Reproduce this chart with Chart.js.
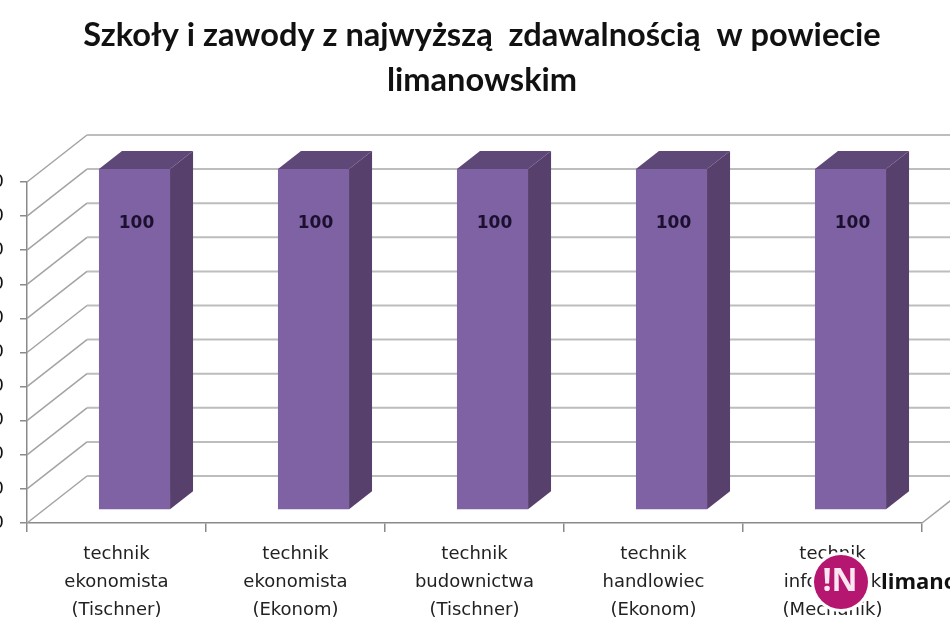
<!DOCTYPE html>
<html>
<head>
<meta charset="utf-8">
<style>
  html, body { margin: 0; padding: 0; background: #fff; overflow: hidden; }
  canvas { display: block; }
</style>
<script src="https://cdn.jsdelivr.net/npm/chart.js@4/dist/chart.umd.js"></script>
</head>
<body>
<canvas id="chart" width="950" height="632"></canvas>
<script>
const titleLines = ['Szkoły i zawody z najwyższą  zdawalnością  w powiecie', 'limanowskim'];
const categories = [
    ['technik', 'ekonomista', '(Tischner)'],
    ['technik', 'ekonomista', '(Ekonom)'],
    ['technik', 'budownictwa', '(Tischner)'],
    ['technik', 'handlowiec', '(Ekonom)'],
    ['technik', 'informatyk', '(Mechanik)']
];
const passRates = [100, 100, 100, 100, 100];

// fake 3D depth, the look of the old Excel chart
const wallDx = 60, wallDy = -47;
const barDx = 23, barDy = -18;
const barShiftX = 18, barShiftY = -13;

const wallPlugin = {
    id: 'wall',
    beforeDatasetsDraw(chart) {
        const { ctx, chartArea: a, scales: { y } } = chart;
        ctx.save();
        y.ticks.forEach(t => {
            const py = y.getPixelForValue(t.value);
            ctx.strokeStyle = '#a3a3a3';
            ctx.lineWidth = 1.5;
            ctx.beginPath();
            ctx.moveTo(a.left, py);
            ctx.lineTo(a.left + wallDx, py + wallDy);
            ctx.stroke();
            ctx.strokeStyle = '#bdbdbd';
            ctx.lineWidth = 2;
            ctx.beginPath();
            ctx.moveTo(a.left + wallDx, py + wallDy);
            ctx.lineTo(chart.width, py + wallDy);
            ctx.stroke();
        });
        // right wall edge
        ctx.strokeStyle = '#a3a3a3';
        ctx.lineWidth = 1.5;
        ctx.beginPath();
        ctx.moveTo(a.right, a.bottom);
        ctx.lineTo(a.right + wallDx, a.bottom + wallDy);
        ctx.stroke();
        ctx.restore();
    }
};

const boxPlugin = {
    id: 'box',
    beforeDatasetDraw(chart) {
        chart.ctx.save();
        chart.ctx.translate(barShiftX, barShiftY);
    },
    afterDatasetDraw(chart, args) {
        const ctx = chart.ctx;
        args.meta.data.forEach((bar, i) => {
            const l = bar.x - bar.width / 2, r = bar.x + bar.width / 2;
            ctx.fillStyle = '#5e4878';
            ctx.beginPath();
            ctx.moveTo(l, bar.y);
            ctx.lineTo(l + barDx, bar.y + barDy);
            ctx.lineTo(r + barDx, bar.y + barDy);
            ctx.lineTo(r, bar.y);
            ctx.fill();
            ctx.fillStyle = '#57406c';
            ctx.beginPath();
            ctx.moveTo(r, bar.y);
            ctx.lineTo(r + barDx, bar.y + barDy);
            ctx.lineTo(r + barDx, bar.base + barDy);
            ctx.lineTo(r, bar.base);
            ctx.fill();
            // value label
            ctx.fillStyle = '#1c1030';
            ctx.font = 'bold 17px "DejaVu Sans"';
            ctx.textAlign = 'center';
            ctx.textBaseline = 'middle';
            ctx.fillText(String(passRates[i]), bar.x + 2, bar.y + 55);
        });
        ctx.restore();
    }
};

const titleLogoPlugin = {
    id: 'titleLogo',
    afterDraw(chart) {
        const ctx = chart.ctx;
        ctx.save();
        ctx.fillStyle = '#111';
        ctx.font = 'bold 32.6px Lato';
        ctx.textAlign = 'center';
        ctx.textBaseline = 'middle';
        ctx.fillText(titleLines[0], 482, 35);
        ctx.fillText(titleLines[1], 482, 80);

        // site logo stamped over the last label
        ctx.fillStyle = '#fff';
        ctx.beginPath();
        ctx.arc(841, 582, 30, 0, Math.PI * 2);
        ctx.fill();
        ctx.fillStyle = '#b5166f';
        ctx.beginPath();
        ctx.arc(841, 582, 27, 0, Math.PI * 2);
        ctx.fill();
        ctx.fillStyle = '#fbe6f1';
        ctx.font = 'bold 32px "Open Sans"';
        ctx.fillText('!N', 840, 582);
        ctx.fillStyle = '#111';
        ctx.font = 'bold 22px "Open Sans"';
        ctx.textAlign = 'left';
        ctx.fillText('limanowska', 881, 583);
        ctx.restore();
    }
};

new Chart(document.getElementById('chart'), {
    type: 'bar',
    data: {
        labels: categories,
        datasets: [{
            data: passRates,
            backgroundColor: '#7f62a3',
            barPercentage: 0.397,
            categoryPercentage: 1
        }]
    },
    options: {
        responsive: false,
        animation: false,
        layout: { padding: { top: 182, right: 28, left: 0, bottom: 0 } },
        plugins: { legend: { display: false }, title: { display: false }, tooltip: { enabled: false } },
        scales: {
            x: {
                grid: { drawOnChartArea: false, color: '#8a8a8a', tickLength: 9, lineWidth: 1.5 },
                border: { color: '#8a8a8a', width: 1.5 },
                ticks: {
                    color: '#222',
                    padding: 9,
                    maxRotation: 0,
                    font: { family: '"DejaVu Sans"', size: 18, lineHeight: 1.53 }
                },
                afterFit(scale) { scale.height = 109; }
            },
            y: {
                min: 0,
                max: 100,
                grid: { drawOnChartArea: false, color: '#8a8a8a', tickLength: 7, lineWidth: 1.5 },
                border: { color: '#8a8a8a', width: 1.5 },
                ticks: {
                    stepSize: 10,
                    color: '#111',
                    padding: 16,
                    font: { family: '"DejaVu Sans"', size: 18 }
                },
                afterFit(scale) { scale.width = 27; }
            }
        }
    },
    plugins: [wallPlugin, boxPlugin, titleLogoPlugin]
});
</script>
</body>
</html>
